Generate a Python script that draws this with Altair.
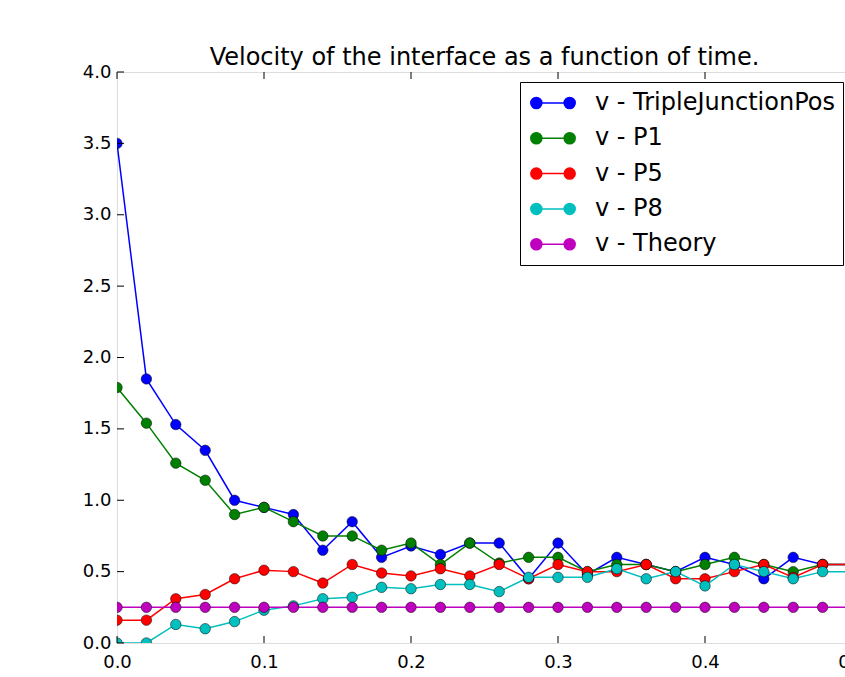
import altair as alt
import pandas as pd

TIME = [0.00, 0.02, 0.04, 0.06, 0.08, 0.10, 0.12, 0.14, 0.16, 0.18, 0.20, 0.22, 0.24,
        0.26, 0.28, 0.30, 0.32, 0.34, 0.36, 0.38, 0.40, 0.42, 0.44, 0.46, 0.48, 0.50]

V_TJP = [3.50, 1.85, 1.53, 1.35, 1.00, 0.95, 0.90, 0.65, 0.85, 0.60, 0.68, 0.62, 0.70,
         0.70, 0.45, 0.70, 0.48, 0.60, 0.55, 0.50, 0.60, 0.55, 0.45, 0.60, 0.55, 0.55]
V_P1 = [1.79, 1.54, 1.26, 1.14, 0.90, 0.95, 0.85, 0.75, 0.75, 0.65, 0.70, 0.55, 0.70,
        0.56, 0.60, 0.60, 0.50, 0.55, 0.55, 0.50, 0.55, 0.60, 0.55, 0.50, 0.55, 0.55]
V_P5 = [0.16, 0.16, 0.31, 0.34, 0.45, 0.51, 0.50, 0.42, 0.55, 0.49, 0.47, 0.52, 0.47,
        0.55, 0.45, 0.55, 0.50, 0.50, 0.55, 0.45, 0.45, 0.50, 0.55, 0.46, 0.55, 0.55]
V_P8 = [0.00, 0.00, 0.13, 0.10, 0.15, 0.23, 0.26, 0.31, 0.32, 0.39, 0.38, 0.41, 0.41,
        0.36, 0.46, 0.46, 0.46, 0.52, 0.45, 0.50, 0.40, 0.55, 0.50, 0.45, 0.50, 0.50]
V_THEORY = [0.25] * 26

SERIES = ["v - TripleJunctionPos", "v - P1", "v - P5", "v - P8", "v - Theory"]
COLORS = ["#0000ff", "#008000", "#ff0000", "#00bfbf", "#bf00bf"]
VALUES = [V_TJP, V_P1, V_P5, V_P8, V_THEORY]

XTICKS = [0.0, 0.1, 0.2, 0.3, 0.4, 0.5]
YTICKS = [0.0, 0.5, 1.0, 1.5, 2.0, 2.5, 3.0, 3.5, 4.0]

rows = []
for si, (name, vals) in enumerate(zip(SERIES, VALUES)):
    for t, v in zip(TIME, vals):
        rows.append({"t": t, "v": v, "series": name, "order": si})
df = pd.DataFrame(rows)
xt = pd.DataFrame({"t": XTICKS})
yt = pd.DataFrame({"v": YTICKS})

W, H = 735, 571
FONT = "DejaVu Sans"

LEG_PATH = ("M-1.39,0L1.39,0"
            "M-1.85,0A0.46,0.46,0,1,0,-0.93,0A0.46,0.46,0,1,0,-1.85,0Z"
            "M0.93,0A0.46,0.46,0,1,0,1.85,0A0.46,0.46,0,1,0,0.93,0Z")

xscale = alt.Scale(domain=[0, 0.5], nice=False, zero=False)
yscale = alt.Scale(domain=[0, 4], nice=False)
cscale = alt.Scale(domain=SERIES, range=COLORS)

xaxis = alt.Axis(values=XTICKS, format=".1f", tickSize=0, domain=False, grid=False,
                 labelPadding=10, title=None, labelFont=FONT, labelFontSize=18,
                 labelColor="black", labelFlush=False)
yaxis = alt.Axis(values=YTICKS, format=".1f", tickSize=0, domain=False, grid=False,
                 labelPadding=6, title=None, labelFont=FONT, labelFontSize=18,
                 labelColor="black")

legend = alt.Legend(orient="none", legendX=403, legendY=10, title=None,
                    labelFont=FONT, labelFontSize=24, labelColor="black",
                    symbolType=LEG_PATH, symbolSize=576, symbolStrokeWidth=1.5,
                    padding=8, rowPadding=10.3, symbolOffset=12, labelOffset=29,
                    strokeColor="black", fillColor="white", cornerRadius=0,
                    labelLimit=400)

base = alt.Chart(df)
lines = base.mark_line(strokeWidth=1.5, clip=True).encode(
    x=alt.X("t:Q", scale=xscale, axis=xaxis),
    y=alt.Y("v:Q", scale=yscale, axis=yaxis),
    color=alt.Color("series:N", scale=cscale, legend=legend, sort=SERIES),
    detail="series:N",
)
points = base.mark_circle(size=110, opacity=1, stroke="black", strokeWidth=0.5, clip=True).encode(
    x="t:Q",
    y="v:Q",
    color=alt.Color("series:N", scale=cscale, legend=legend, sort=SERIES),
    order="order:Q",
)

bottom_ticks = alt.Chart(xt).mark_rule(color="black", strokeWidth=1).encode(
    x="t:Q", y=alt.value(H), y2=alt.value(H - 7))
top_ticks = alt.Chart(xt).mark_rule(color="black", strokeWidth=1).encode(
    x="t:Q", y=alt.value(0), y2=alt.value(7))
left_ticks = alt.Chart(yt).mark_rule(color="black", strokeWidth=1).encode(
    y="v:Q", x=alt.value(0), x2=alt.value(7))

chart = alt.layer(lines, points, bottom_ticks, top_ticks, left_ticks).properties(
    width=W, height=H,
    title=alt.TitleParams("Velocity of the interface as a function of time.",
                          font=FONT, fontSize=24, fontWeight="normal", color="black",
                          anchor="middle", offset=1, dy=8),
    autosize=alt.AutoSizeParams(type="none"),
    padding={"left": 117, "top": 72, "right": -7, "bottom": 34},
).configure_view(stroke="black", strokeWidth=1).configure(background="white")

chart.save("out.html", embed_options={"renderer": "svg", "actions": False})
